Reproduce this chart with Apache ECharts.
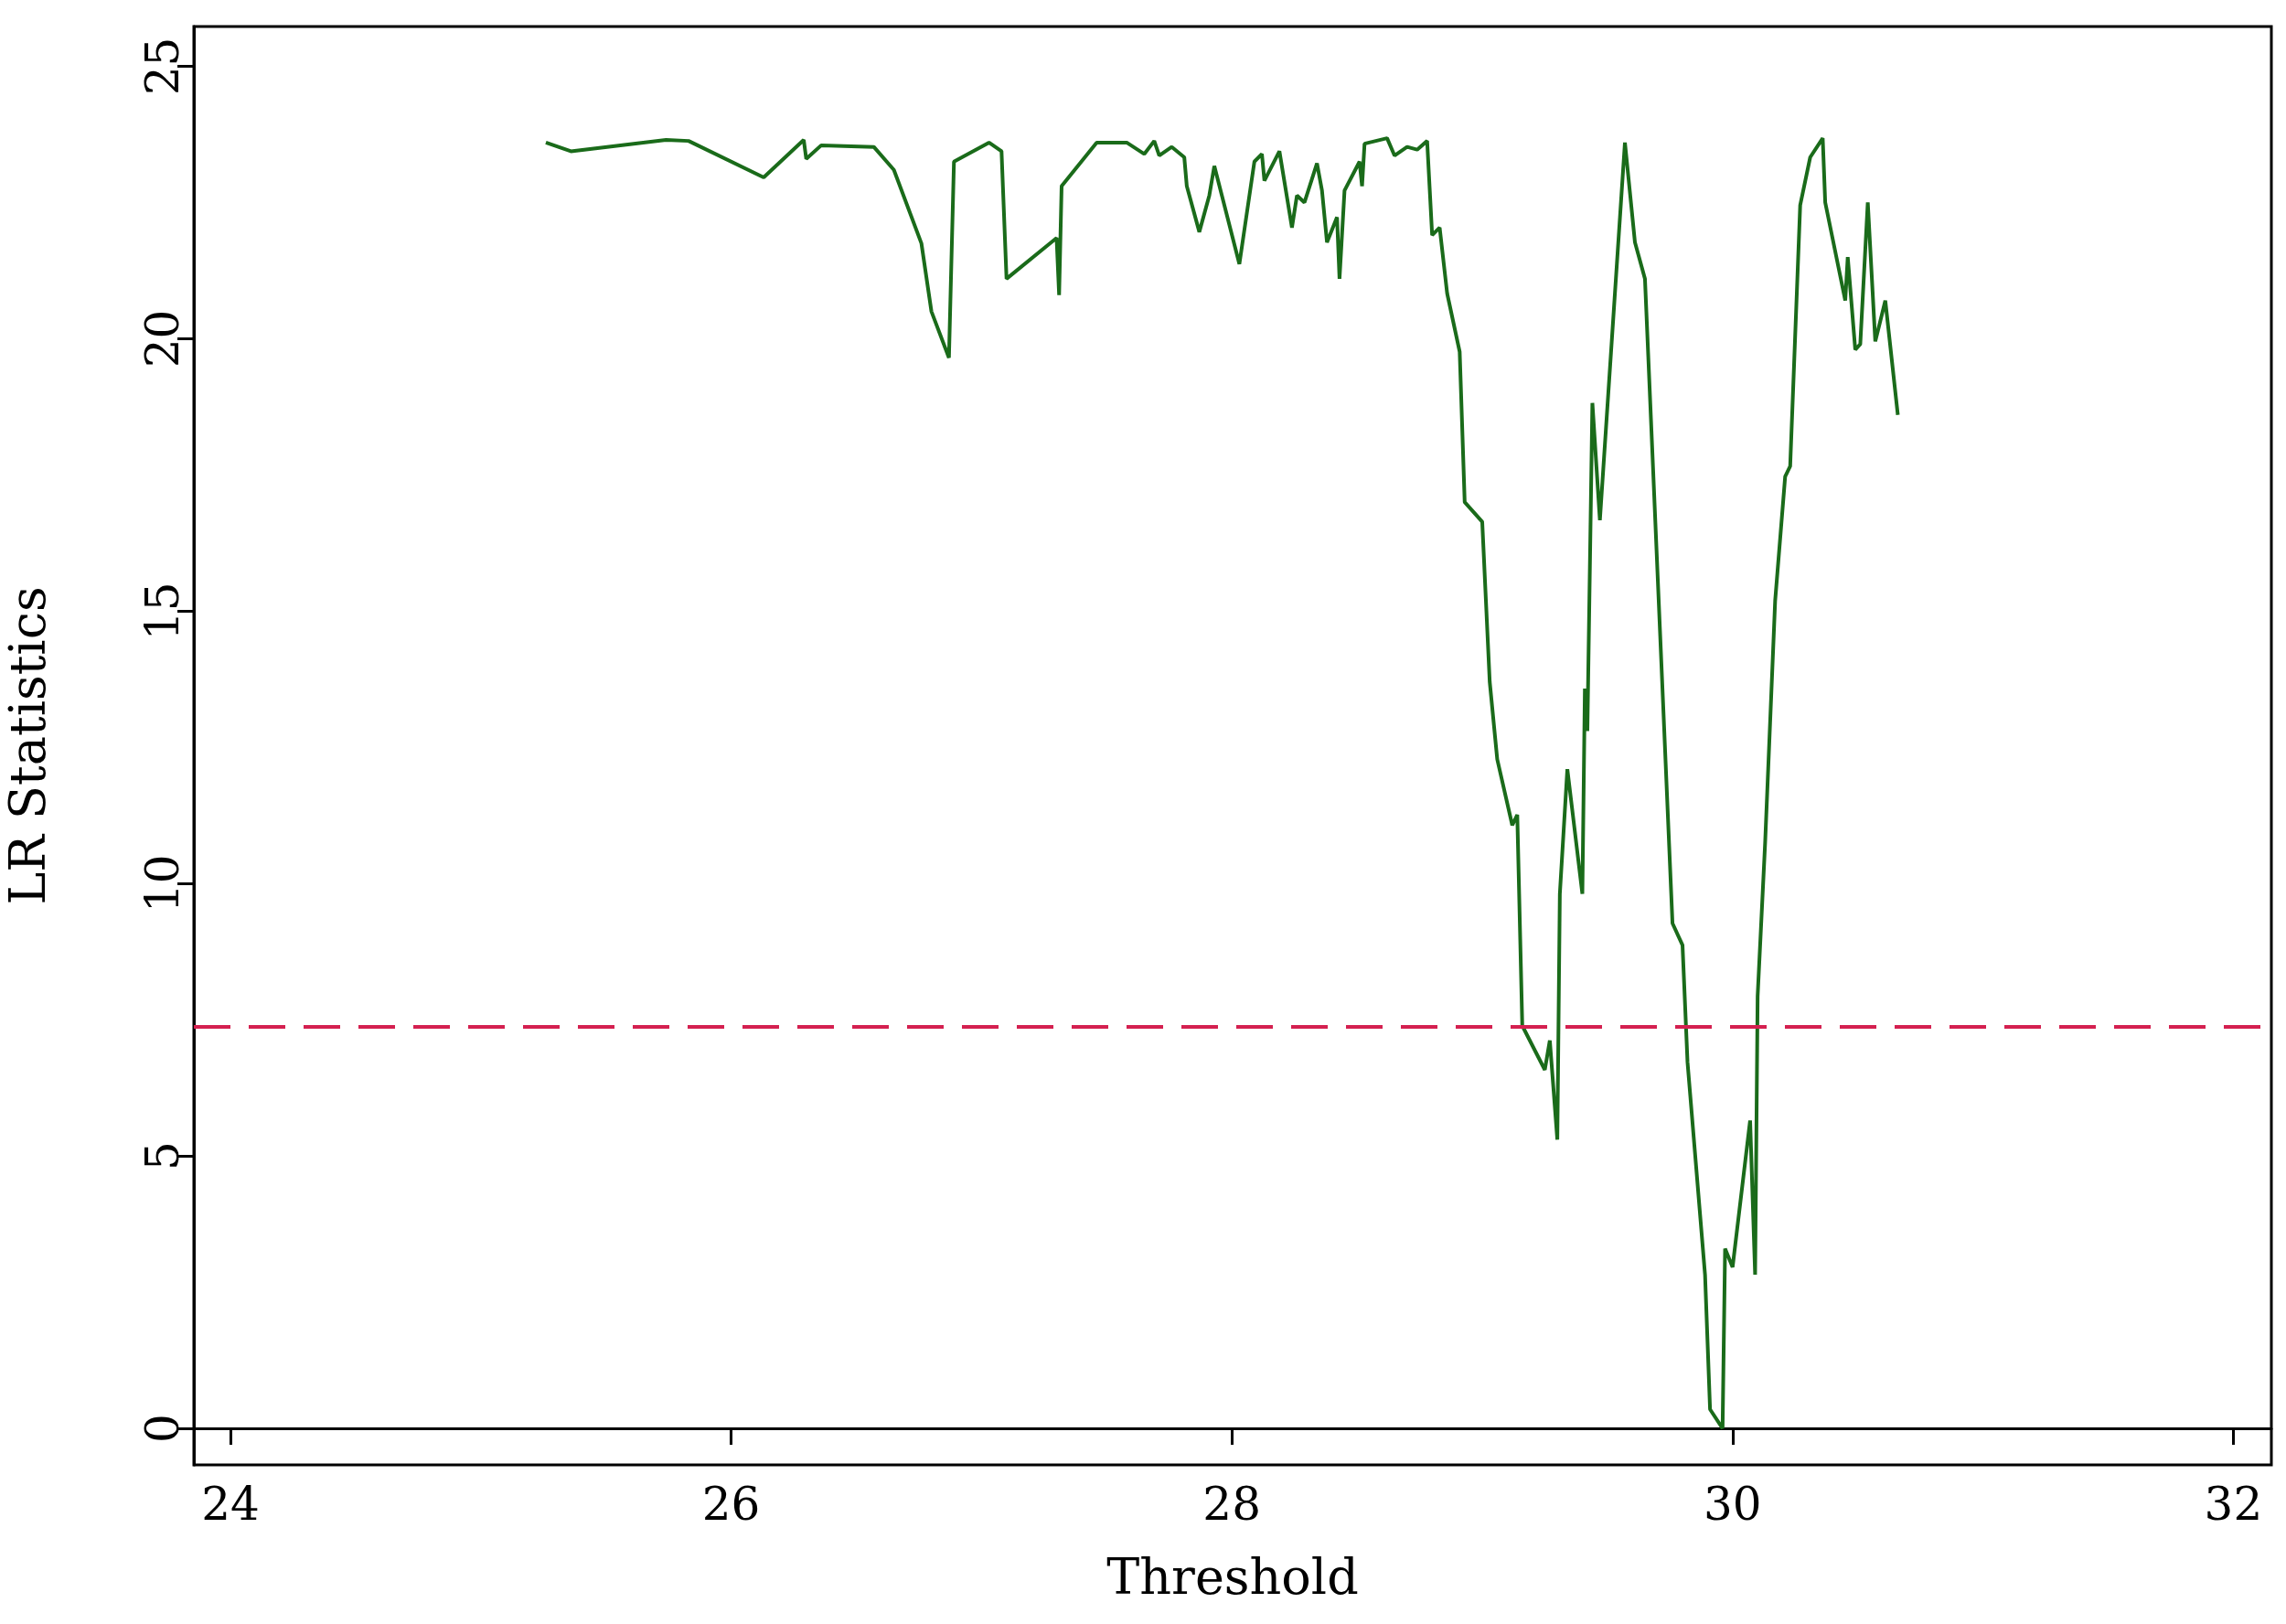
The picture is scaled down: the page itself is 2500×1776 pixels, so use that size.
<!DOCTYPE html>
<html><head><meta charset="utf-8">
<script src="https://cdn.jsdelivr.net/npm/echarts@6/dist/echarts.min.js"></script>
<style>html,body{margin:0;background:#fff}#c{width:2500px;height:1776px}</style>
</head><body><div id="c"></div>
<script>
var thresholds = [25.26,25.36,25.74,25.83,26.13,26.29,26.30,26.36,26.57,26.65,26.76,26.80,26.87,26.89,27.03,27.08,27.10,27.30,27.31,27.32,27.46,27.58,27.65,27.69,27.71,27.76,27.81,27.82,27.87,27.91,27.93,28.03,28.09,28.12,28.13,28.19,28.24,28.26,28.29,28.34,28.36,28.38,28.42,28.43,28.45,28.51,28.52,28.53,28.62,28.65,28.70,28.74,28.78,28.80,28.83,28.86,28.91,28.93,29.00,29.03,29.06,29.12,29.14,29.16,29.25,29.27,29.30,29.31,29.34,29.40,29.41,29.42,29.44,29.47,29.57,29.61,29.65,29.76,29.80,29.82,29.89,29.91,29.96,29.97,30.00,30.07,30.09,30.10,30.13,30.17,30.21,30.23,30.27,30.31,30.36,30.37,30.45,30.46,30.49,30.51,30.54,30.57,30.61,30.66];
var lrStats = [23.6,23.44,23.65,23.63,22.96,23.65,23.3,23.55,23.52,23.1,21.75,20.5,19.65,23.25,23.6,23.44,21.1,21.85,20.8,22.8,23.6,23.6,23.39,23.63,23.36,23.52,23.33,22.8,21.96,22.63,23.17,21.37,23.25,23.39,22.9,23.44,22.04,22.63,22.5,23.22,22.72,21.77,22.23,21.1,22.72,23.25,22.8,23.58,23.68,23.36,23.52,23.47,23.63,21.9,22.04,20.83,19.76,17.0,16.64,13.7,12.28,11.07,11.26,7.39,6.58,7.12,5.3,9.81,12.1,9.81,13.58,12.8,18.82,16.67,23.6,21.77,21.1,9.27,8.87,6.72,2.82,0.35,0.0,3.3,2.96,5.65,2.82,7.93,10.75,15.19,17.47,17.66,22.45,23.33,23.68,22.5,20.7,21.5,19.8,19.9,22.5,19.95,20.7,18.6];
var criticalValue = 7.37;
var xTicks = [24,26,28,30,32];
var yTicks = [0,5,10,15,20,25];

var chart = echarts.init(document.getElementById('c'));
var font = 'DejaVu Serif';
var data = thresholds.map(function(t,i){ return [t, lrStats[i]]; });
chart.setOption({
    animation: false,
    grid: {left: 203, right: 16, top: 29, bottom: 174, show: true, borderColor: '#000', borderWidth: 3},
    xAxis: {
        type: 'value', min: 23.854, max: 32.152,
        name: 'Threshold', nameLocation: 'middle', nameGap: 100,
        nameTextStyle: {fontFamily: font, fontSize: 54, color: '#000'},
        axisLine: {lineStyle: {color: '#000', width: 3}},
        axisTick: {show: true, length: 18, lineStyle: {width: 3, color: '#000'}, customValues: xTicks},
        axisLabel: {fontFamily: font, fontSize: 50, color: '#000', margin: 22, customValues: xTicks},
        splitLine: {show: false}
    },
    yAxis: {
        type: 'value', min: -0.67, max: 25.73,
        name: 'LR Statistics', nameLocation: 'middle', nameGap: 150, nameRotate: 90,
        nameTextStyle: {fontFamily: font, fontSize: 54, color: '#000'},
        axisLine: {lineStyle: {color: '#000', width: 3}},
        axisTick: {show: true, length: 18, lineStyle: {width: 3, color: '#000'}, customValues: yTicks},
        axisLabel: {fontFamily: font, fontSize: 50, color: '#000', rotate: 90, margin: 30, customValues: yTicks, verticalAlign: 'middle', align: 'center'},
        splitLine: {show: false}
    },
    series: [{
        type: 'line', data: data, showSymbol: false,
        lineStyle: {color: '#1a6b1a', width: 4},
        markLine: {
            silent: true, symbol: 'none', label: {show: false},
            lineStyle: {color: '#d42050', width: 4, type: [40, 20]},
            data: [{yAxis: criticalValue}]
        }
    }]
});
</script></body></html>
